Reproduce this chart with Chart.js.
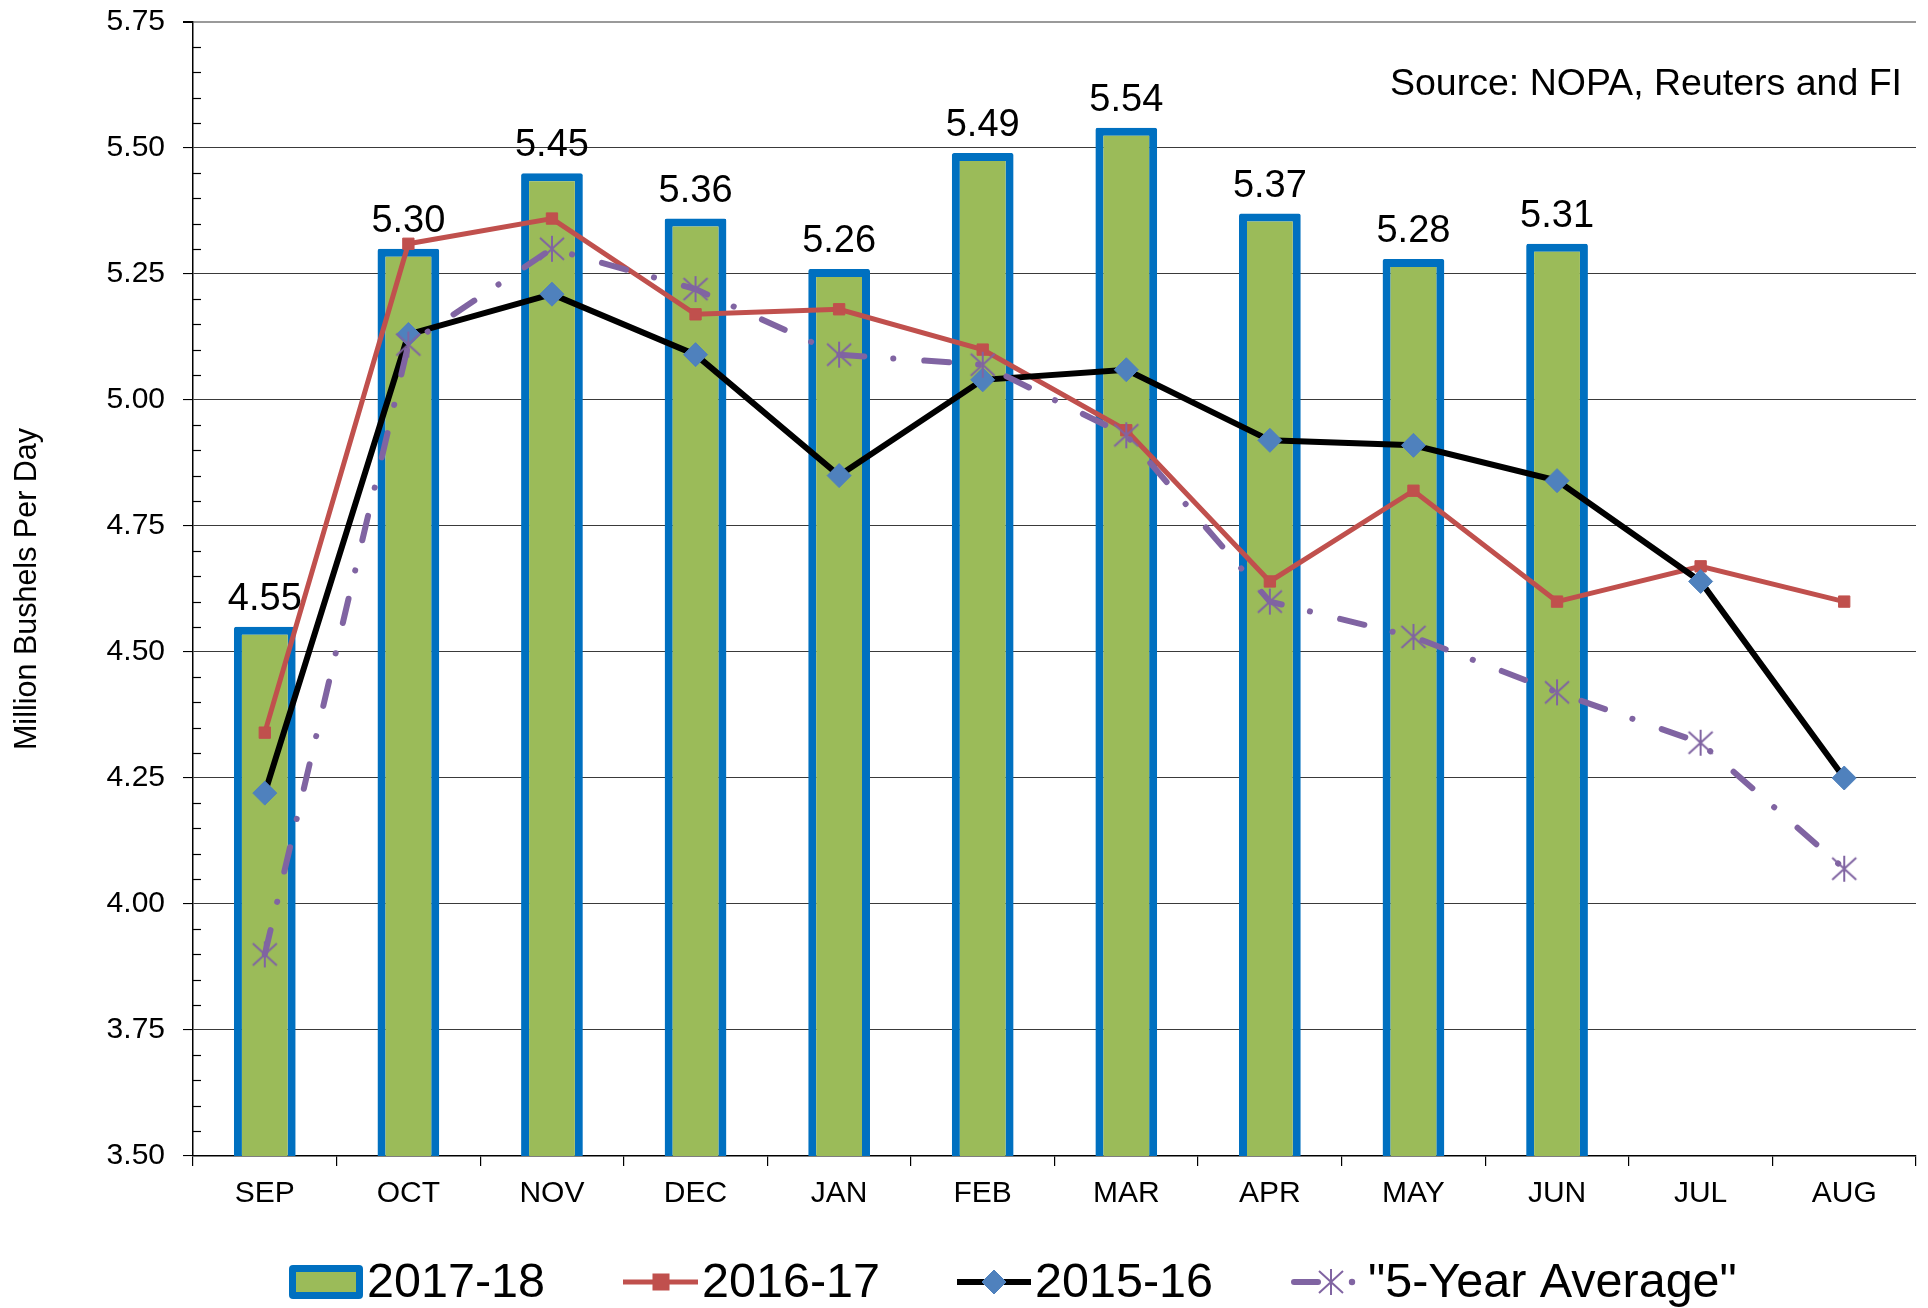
<!DOCTYPE html>
<html><head><meta charset="utf-8">
<script src="https://cdn.jsdelivr.net/npm/chart.js@4.4.1/dist/chart.umd.min.js"></script>
<style>html,body{margin:0;padding:0;background:#fff;}#wrap{width:1928px;height:1308px;}</style>
</head><body><div id="wrap"><canvas id="c" width="1928" height="1308"></canvas></div>
<script>
// ---- data ----
const months = ['SEP','OCT','NOV','DEC','JAN','FEB','MAR','APR','MAY','JUN','JUL','AUG'];
const crush1718 = [4.55,5.30,5.45,5.36,5.26,5.49,5.54,5.37,5.28,5.31,null,null];
const crush1617 = [4.34,5.31,5.36,5.17,5.18,5.10,4.94,4.64,4.82,4.60,4.67,4.60];
const crush1516 = [4.22,5.13,5.21,5.09,4.85,5.04,5.06,4.92,4.91,4.84,4.64,4.25];
const avg5yr    = [3.90,5.11,5.30,5.22,5.09,5.07,4.93,4.60,4.53,4.42,4.32,4.07];
const seriesNames = ['2017-18','2016-17','2015-16','"5-Year Average"'];
const yMin = 3.5, yMax = 5.75, yStep = 0.25, yMinorStep = 0.05;
const yTitle = 'Million Bushels Per Day';
const sourceNote = 'Source: NOPA, Reuters and FI';

// ---- styles ----
const FONT = '"Liberation Sans", Arial, sans-serif';
const GREEN = '#9BBB59', BLUE = '#0070C0', RED = '#C0504D', DIAMOND = '#4F81BD', PURPLE = '#8064A2';

function makeAsterisk() {
  const cv = document.createElement('canvas');
  cv.width = 30; cv.height = 30;
  const g = cv.getContext('2d');
  g.strokeStyle = PURPLE; g.lineWidth = 2;
  g.beginPath();
  g.moveTo(15, 2); g.lineTo(15, 28);
  g.moveTo(3, 4); g.lineTo(27, 26);
  g.moveTo(27, 4); g.lineTo(3, 26);
  g.stroke();
  return cv;
}
const asterisk = makeAsterisk();

const minorTicks = {
  id: 'minorTicks',
  afterDraw(chart) {
    const y = chart.scales.y, ctx = chart.ctx, left = chart.chartArea.left;
    ctx.save();
    ctx.strokeStyle = '#000'; ctx.lineWidth = 1.2;
    const n = Math.round((yMax - yMin) / yMinorStep);
    for (let i = 0; i <= n; i++) {
      const v = yMin + i * yMinorStep;
      if (Math.abs(v / yStep - Math.round(v / yStep)) < 1e-6) continue;
      const py = Math.round(y.getPixelForValue(v)) + 0.5;
      ctx.beginPath(); ctx.moveTo(left, py); ctx.lineTo(left + 8, py); ctx.stroke();
    }
    ctx.restore();
  }
};

const barLabels = {
  id: 'barLabels',
  afterDatasetsDraw(chart) {
    const ctx = chart.ctx, meta = chart.getDatasetMeta(0);
    ctx.save();
    ctx.font = '38px ' + FONT; ctx.fillStyle = '#000';
    ctx.textAlign = 'center'; ctx.textBaseline = 'alphabetic';
    meta.data.forEach((el, i) => {
      const v = crush1718[i];
      if (v == null) return;
      ctx.fillText(v.toFixed(2), el.x, el.y - 17);
    });
    ctx.restore();
  }
};

const extras = {
  id: 'extras',
  afterDraw(chart) {
    const ctx = chart.ctx;
    ctx.save();
    // source note
    ctx.font = '37.5px ' + FONT; ctx.fillStyle = '#000';
    ctx.textAlign = 'right'; ctx.textBaseline = 'middle';
    ctx.fillText(sourceNote, 1902, 85);
    // legend
    const ly = 1282;
    ctx.font = '48.5px ' + FONT; ctx.textAlign = 'left'; ctx.textBaseline = 'middle';
    // bar item
    ctx.fillStyle = BLUE;
    ctx.beginPath(); ctx.roundRect(289, ly - 17, 74, 34, 4); ctx.fill();
    ctx.fillStyle = GREEN; ctx.fillRect(296, ly - 10, 60, 20);
    ctx.fillStyle = '#000'; ctx.fillText(seriesNames[0], 367, ly + 2);
    // red
    ctx.strokeStyle = RED; ctx.lineWidth = 5;
    ctx.beginPath(); ctx.moveTo(623, ly); ctx.lineTo(698, ly); ctx.stroke();
    Chart.helpers.drawPoint(ctx, {pointStyle: 'rect', radius: 8.5, borderWidth: 1}, 661, ly);
    ctx.fillStyle = RED; ctx.fill();
    ctx.fillStyle = '#000'; ctx.fillText(seriesNames[1], 702, ly + 2);
    // black
    ctx.strokeStyle = '#000'; ctx.lineWidth = 6;
    ctx.beginPath(); ctx.moveTo(957, ly); ctx.lineTo(1031, ly); ctx.stroke();
    ctx.fillStyle = DIAMOND; ctx.strokeStyle = DIAMOND; ctx.lineWidth = 1;
    Chart.helpers.drawPoint(ctx, {pointStyle: 'rectRot', radius: 12, borderWidth: 1}, 994, ly);
    ctx.fillStyle = '#000'; ctx.fillText(seriesNames[2], 1035, ly + 2);
    // purple
    ctx.strokeStyle = PURPLE; ctx.lineWidth = 6; ctx.lineCap = 'round';
    ctx.beginPath(); ctx.moveTo(1294, ly); ctx.lineTo(1318, ly); ctx.stroke();
    ctx.beginPath(); ctx.arc(1352, ly, 3.2, 0, Math.PI * 2); ctx.fillStyle = PURPLE; ctx.fill();
    ctx.drawImage(asterisk, 1331 - 15, ly - 15);
    ctx.fillStyle = '#000'; ctx.fillText(seriesNames[3], 1368, ly + 2);
    ctx.restore();
  }
};

function zeroPad(s) { s.paddingTop = 0; s.paddingBottom = 0; s.paddingLeft = 0; s.paddingRight = 0; }

new Chart(document.getElementById('c'), {
  data: {
    labels: months,
    datasets: [
      { type: 'bar', label: seriesNames[0], data: crush1718, backgroundColor: GREEN, borderColor: BLUE,
        borderWidth: 8, borderSkipped: false, borderRadius: 2, barPercentage: 0.43, categoryPercentage: 1, order: 10 },
      { type: 'line', label: seriesNames[1], data: crush1617, borderColor: RED, borderWidth: 5,
        pointStyle: 'rect', pointRadius: 8, pointBackgroundColor: RED, pointBorderColor: RED, pointBorderWidth: 1,
        tension: 0, fill: false, order: 3 },
      { type: 'line', label: seriesNames[2], data: crush1516, borderColor: '#000', borderWidth: 6,
        pointStyle: 'rectRot', pointRadius: 12, pointBackgroundColor: DIAMOND, pointBorderColor: DIAMOND, pointBorderWidth: 1,
        tension: 0, fill: false, order: 2 },
      { type: 'line', label: seriesNames[3], data: avg5yr, borderColor: PURPLE, borderWidth: 6,
        borderDash: [25, 29, 0.1, 31], borderCapStyle: 'round',
        pointStyle: asterisk, pointRadius: 13,
        tension: 0, fill: false, order: 1 }
    ]
  },
  options: {
    responsive: false,
    animation: false,
    devicePixelRatio: 1,
    layout: { autoPadding: false, padding: { left: 0, right: 12, top: 22, bottom: 0 } },
    plugins: { legend: { display: false }, tooltip: { enabled: false } },
    scales: {
      x: {
        offset: true,
        grid: { drawOnChartArea: false, drawTicks: true, tickLength: 10, offset: true, color: '#000', lineWidth: 1.2 },
        border: { display: true, color: '#000', width: 1.5 },
        ticks: { font: { family: FONT, size: 30 }, color: '#000', padding: 10 },
        afterFit(s) { s.height = 152; zeroPad(s); }
      },
      y: {
        min: yMin, max: yMax,
        ticks: { stepSize: yStep, font: { family: FONT, size: 30 }, color: '#000', padding: 18,
                 callback: v => Number(v).toFixed(2) },
        grid: {
          color: c => (c.tick && c.tick.value === yMax) ? '#9a9a9a' : '#3a3a3a',
          lineWidth: c => (c.tick && c.tick.value === yMax) ? 2 : 1.1,
          tickLength: 10, tickColor: '#000'
        },
        border: { display: true, color: '#000', width: 1.5 },
        title: { display: true, text: yTitle, font: { family: FONT, size: 30.5 }, color: '#000', padding: { top: 9, bottom: 0 } },
        afterFit(s) { s.width = 193; zeroPad(s); }
      }
    }
  },
  plugins: [minorTicks, barLabels, extras]
});
</script></body></html>
